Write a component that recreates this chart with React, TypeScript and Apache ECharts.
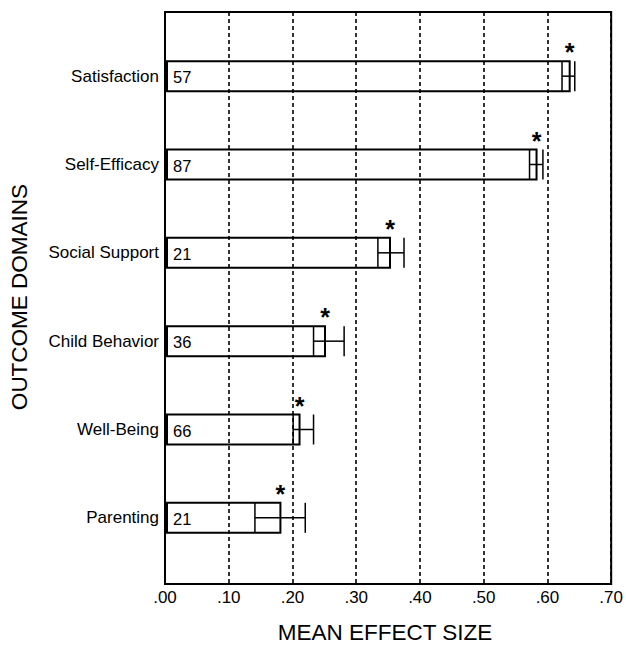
import React, { useEffect, useRef } from "react";
import * as echarts from "echarts";

const categories = ["Satisfaction", "Self-Efficacy", "Social Support", "Child Behavior", "Well-Being", "Parenting"];
const meanEffect = [0.632, 0.58, 0.35, 0.248, 0.208, 0.178];
const ciLower = [0.62, 0.569, 0.331, 0.23, 0.198, 0.138];
const ciUpper = [0.64, 0.59, 0.372, 0.278, 0.23, 0.217];
const studyCounts = [57, 87, 21, 36, 66, 21];
const xTicks = [0, 0.1, 0.2, 0.3, 0.4, 0.5, 0.6, 0.7];

const FONT = "'Liberation Sans', Arial, sans-serif";

export default function App() {
  const ref = useRef<HTMLDivElement>(null);
  useEffect(() => {
    if (!ref.current) return;
    const chart = echarts.init(ref.current, undefined, { renderer: "svg" });
    const data = categories.map((c, i) => [meanEffect[i], i, ciLower[i], ciUpper[i], studyCounts[i]]);
    const barH = 30;
    const option: any = {
      animation: false,
      backgroundColor: "#fff",
      textStyle: { fontFamily: FONT, color: "#000" },
      grid: [
        { left: 165, top: 12, width: 448, height: 572, show: true, borderColor: "#000", borderWidth: 2, backgroundColor: "transparent" },
        { left: 165, top: 32, width: 448, height: 530 },
      ],
      xAxis: [
        {
          type: "value",
          gridIndex: 0,
          min: xTicks[0],
          max: xTicks[xTicks.length - 1],
          interval: 0.1,
          axisLine: { show: false },
          axisTick: { show: false },
          axisLabel: {
            color: "#000",
            fontSize: 17,
            fontFamily: FONT,
            margin: 5,
            formatter: (v: number) => "." + String(Math.round(v * 100)).padStart(2, "0"),
          },
          splitLine: { show: true, lineStyle: { color: "#000", width: 1.6, type: [4, 3] } },
        },
        { type: "value", gridIndex: 1, min: 0, max: 0.7, show: false },
      ],
      yAxis: [
        { type: "value", gridIndex: 0, show: false, min: 0, max: 1 },
        {
          type: "category",
          gridIndex: 1,
          data: categories,
          inverse: true,
          axisLine: { show: false },
          axisTick: { show: false },
          splitLine: { show: false },
          axisLabel: { color: "#000", fontSize: 17, fontFamily: FONT, margin: 8 },
          name: "OUTCOME DOMAINS",
          nameLocation: "middle",
          nameRotate: 90,
          nameGap: 136,
          nameTextStyle: { color: "#000", fontSize: 22.5, fontFamily: FONT },
        },
      ],
      graphic: [
        {
          type: "text",
          x: 385,
          y: 632,
          style: { text: "MEAN EFFECT SIZE", fill: "#000", fontSize: 22.5, fontFamily: FONT, align: "center", verticalAlign: "middle" },
        },
      ],
      series: [
        {
          type: "custom",
          xAxisIndex: 1,
          yAxisIndex: 1,
          data,
          encode: { x: 0, y: 1 },
          renderItem: (params: any, api: any) => {
            const v = api.value(0);
            const idx = api.value(1);
            const lo = api.value(2);
            const hi = api.value(3);
            const n = api.value(4);
            const [xv, cy] = api.coord([v, idx]);
            const x0 = api.coord([0, idx])[0];
            const xl = api.coord([lo, idx])[0];
            const xh = api.coord([hi, idx])[0];
            const top = cy - barH / 2;
            const bot = cy + barH / 2;
            const ls = { stroke: "#000", lineWidth: 1.5 };
            return {
              type: "group",
              children: [
                { type: "rect", shape: { x: x0, y: top, width: xv - x0, height: barH }, style: { fill: "none", stroke: "#000", lineWidth: 2 } },
                { type: "line", shape: { x1: xl, y1: top, x2: xl, y2: bot }, style: ls },
                { type: "line", shape: { x1: xl, y1: cy, x2: xh, y2: cy }, style: ls },
                { type: "line", shape: { x1: xh, y1: top, x2: xh, y2: bot }, style: ls },
                {
                  type: "text",
                  style: { text: "*", x: xv, y: top - 9, align: "center", verticalAlign: "middle", fontSize: 25, fontWeight: "bold", fontFamily: FONT, fill: "#000" },
                },
                {
                  type: "text",
                  style: { text: String(n), x: x0 + 6, y: cy + 1, align: "left", verticalAlign: "middle", fontSize: 16.5, fontFamily: FONT, fill: "#000" },
                },
              ],
            };
          },
        },
      ],
    };
    chart.setOption(option);
    return () => chart.dispose();
  }, []);
  return <div ref={ref} style={{ position: "fixed", left: 0, top: 0, width: 626, height: 646 }} />;
}
